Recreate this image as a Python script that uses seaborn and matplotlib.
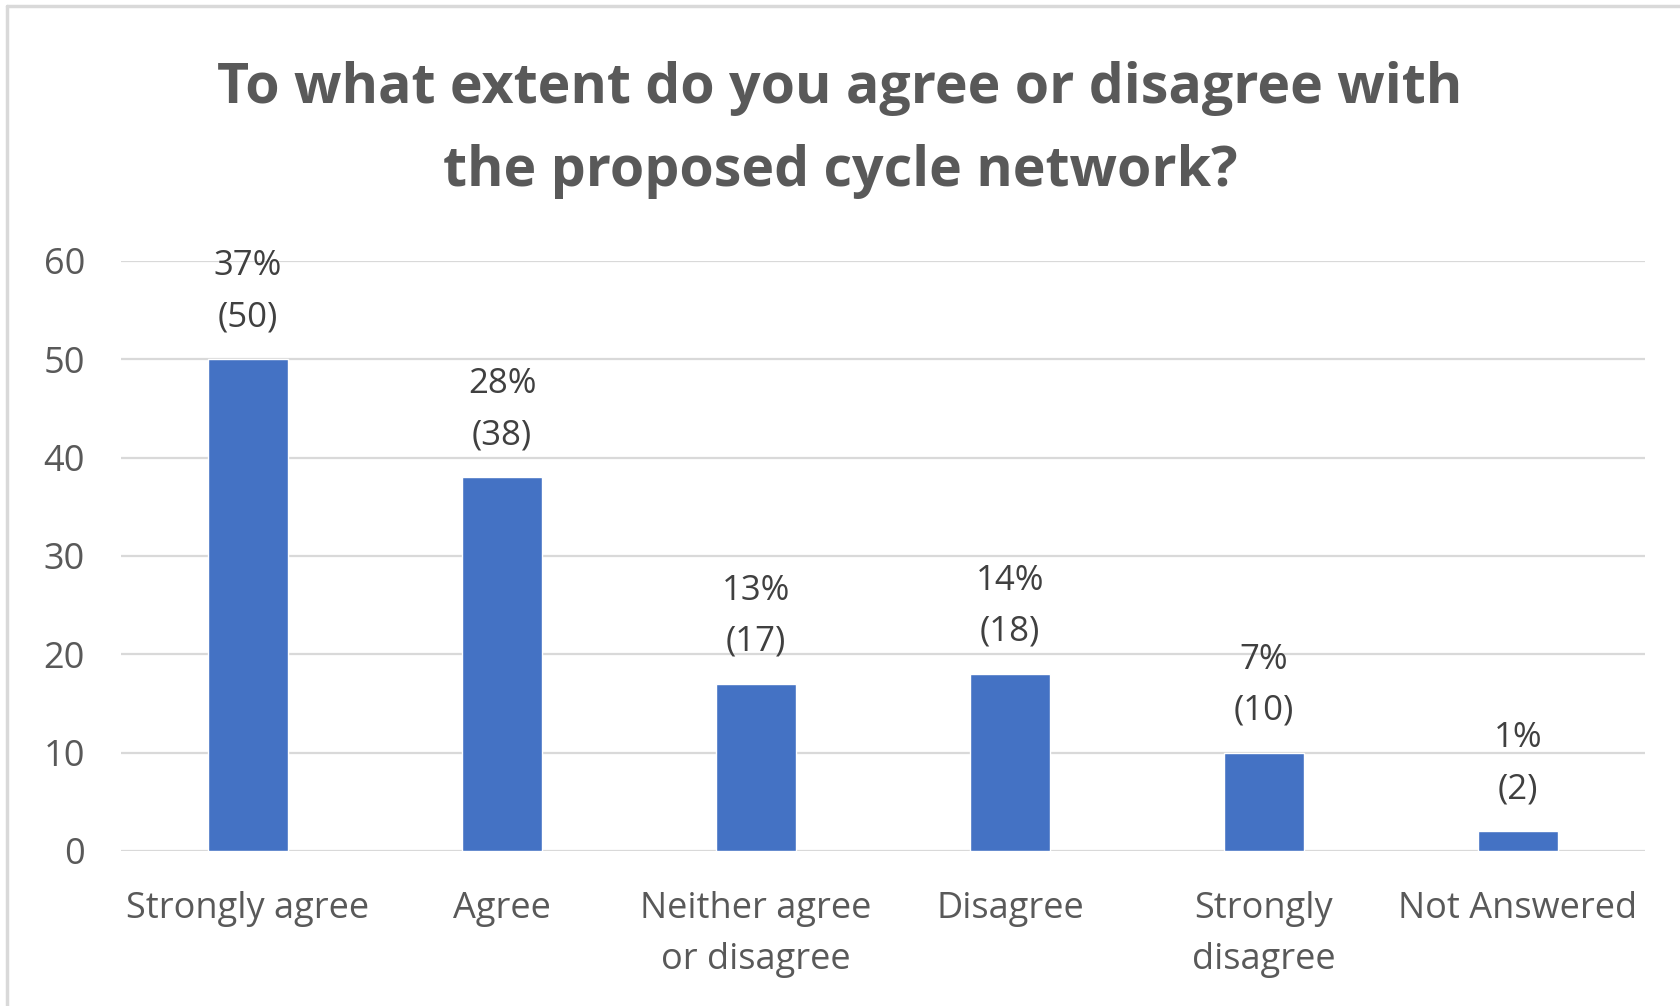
import matplotlib
matplotlib.use('agg')
from matplotlib import pyplot as plt
import numpy as np
import pandas as pd
import seaborn as sns

categories = ['Strongly agree', 'Agree', 'Neither agree\nor disagree', 'Disagree',
              'Strongly\ndisagree', 'Not Answered']
counts = [50, 38, 17, 18, 10, 2]
percents = [37, 28, 13, 14, 7, 1]
yticks = [0, 10, 20, 30, 40, 50, 60]
title = 'To what extent do you agree or disagree with\nthe proposed cycle network?'

df = pd.DataFrame({'answer': categories, 'count': counts})

sns.set_theme(style='white')
plt.rcParams['font.family'] = ['Open Sans', 'DejaVu Sans']

fig = plt.figure(figsize=(16.8, 10.06), dpi=100)
ax = fig.add_axes([121/1680, 1-851/1006, (1645-121)/1680, (851-261)/1006])

sns.barplot(data=df, x='answer', y='count', color='#4472C4', width=0.315,
            saturation=1, ax=ax, zorder=3)

ax.set_ylim(0, 60)
ax.set_xlim(-0.5, len(categories)-0.5)
ax.set_yticks(yticks)
ax.yaxis.grid(True, color='#d9d9d9', linewidth=1.6, zorder=0)
ax.set_axisbelow(True)
sns.despine(ax=ax, left=True, bottom=True, top=True, right=True)
ax.tick_params(axis='both', length=0, labelsize=26, colors='#595959')
ax.tick_params(axis='y', pad=26)
ax.tick_params(axis='x', pad=29)
for t in ax.get_xticklabels():
	t.set_linespacing(1.55)
ax.set_xlabel('')
ax.set_ylabel('')

for i, (c, p) in enumerate(zip(counts, percents)):
	ax.annotate('{}%\n({})'.format(p, c), (i, c), xytext=(0, 18), textcoords='offset points',
				ha='center', va='bottom', fontsize=25, color='#404040', linespacing=1.65)

fig.text(0.5, 1-130/1006, title, ha='center', va='center', fontsize=40, fontweight='bold',
		 color='#595959', linespacing=1.65)

# chart frame, only top and left edges show in the screenshot
fig.add_artist(plt.Line2D([7/1680, 7/1680], [0, 1-6/1006], color='#d9d9d9', linewidth=2.5,
						  transform=fig.transFigure))
fig.add_artist(plt.Line2D([7/1680, 1], [1-6/1006, 1-6/1006], color='#d9d9d9', linewidth=2.5,
						  transform=fig.transFigure))

plt.savefig('out.png', dpi=100)
plt.close()
